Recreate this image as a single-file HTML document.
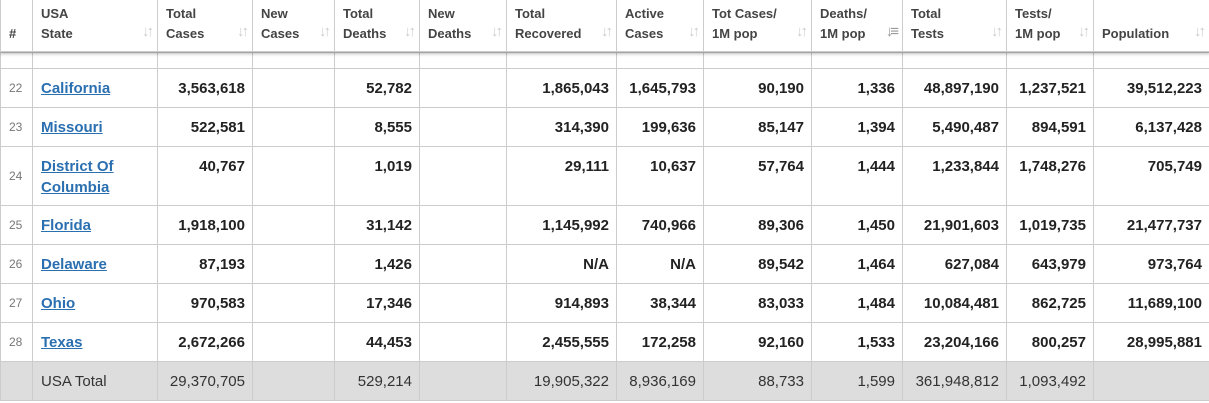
<!DOCTYPE html>
<html><head><meta charset="utf-8"><style>
body{margin:0;width:1209px;height:403px;overflow:hidden;background:#fff;font-family:"Liberation Sans",Arial,sans-serif;position:relative}
table{border-collapse:collapse;table-layout:fixed;position:absolute;left:0;width:1209px}
td,th{border:1px solid #ccc;padding:0 7px 0 8px;overflow:hidden;white-space:nowrap}
#h{top:-1px;z-index:2;background:#fff;box-shadow:0 2px 3px rgba(0,0,0,.25)}
#h th{height:52px;font-size:13px;font-weight:bold;color:#444;text-align:left;vertical-align:top;line-height:20px;padding-top:4px;box-sizing:border-box;position:relative}
#h th .s{position:absolute;right:6px;bottom:9px;color:#ccc;font-size:15px;font-weight:bold;letter-spacing:-3px}
#h th.c{padding-top:24px}
#b{top:52px}
#b td{font-size:15px;font-weight:bold;color:#222;text-align:right;vertical-align:top;padding-top:9px;line-height:21px;height:29px;box-sizing:border-box}
#b td.n{font-size:12px;font-weight:normal;color:#777;text-align:left;padding-left:8px;vertical-align:middle;padding-top:0;height:39px}
#b td.st{text-align:left}
#b td.st a{color:#2a6fb0;text-decoration:underline}
#b tr.p td{height:16px;padding:0}
#b tr.t td{background:#ddd;font-weight:normal;color:#333;vertical-align:middle;padding-top:0;height:39px}
</style></head><body>
<table id="h"><colgroup><col style="width:32px"><col style="width:125px"><col style="width:95px"><col style="width:82px"><col style="width:85px"><col style="width:87px"><col style="width:110px"><col style="width:87px"><col style="width:108px"><col style="width:91px"><col style="width:104px"><col style="width:87px"><col style="width:116px"></colgroup>
<tr><th class="c">#</th><th>USA<br>State<span class="s">↓↑</span></th><th>Total<br>Cases<span class="s">↓↑</span></th><th>New<br>Cases<span class="s">↓↑</span></th><th>Total<br>Deaths<span class="s">↓↑</span></th><th>New<br>Deaths<span class="s">↓↑</span></th><th>Total<br>Recovered<span class="s">↓↑</span></th><th>Active<br>Cases<span class="s">↓↑</span></th><th>Tot Cases/<br>1M pop<span class="s">↓↑</span></th><th>Deaths/<br>1M pop<span class="s" style="color:#999">↓≡</span></th><th>Total<br>Tests<span class="s">↓↑</span></th><th>Tests/<br>1M pop<span class="s">↓↑</span></th><th class="c">Population<span class="s">↓↑</span></th></tr></table>
<table id="b"><colgroup><col style="width:32px"><col style="width:125px"><col style="width:95px"><col style="width:82px"><col style="width:85px"><col style="width:87px"><col style="width:110px"><col style="width:87px"><col style="width:108px"><col style="width:91px"><col style="width:104px"><col style="width:87px"><col style="width:116px"></colgroup>
<tr class="p"><td></td><td></td><td></td><td></td><td></td><td></td><td></td><td></td><td></td><td></td><td></td><td></td><td></td></tr>
<tr><td class="n">22</td><td class="st"><a>California</a></td><td>3,563,618</td><td></td><td>52,782</td><td></td><td>1,865,043</td><td>1,645,793</td><td>90,190</td><td>1,336</td><td>48,897,190</td><td>1,237,521</td><td>39,512,223</td></tr>
<tr><td class="n">23</td><td class="st"><a>Missouri</a></td><td>522,581</td><td></td><td>8,555</td><td></td><td>314,390</td><td>199,636</td><td>85,147</td><td>1,394</td><td>5,490,487</td><td>894,591</td><td>6,137,428</td></tr>
<tr><td class="n" style="height:59px">24</td><td class="st"><a>District Of<br>Columbia</a></td><td>40,767</td><td></td><td>1,019</td><td></td><td>29,111</td><td>10,637</td><td>57,764</td><td>1,444</td><td>1,233,844</td><td>1,748,276</td><td>705,749</td></tr>
<tr><td class="n">25</td><td class="st"><a>Florida</a></td><td>1,918,100</td><td></td><td>31,142</td><td></td><td>1,145,992</td><td>740,966</td><td>89,306</td><td>1,450</td><td>21,901,603</td><td>1,019,735</td><td>21,477,737</td></tr>
<tr><td class="n">26</td><td class="st"><a>Delaware</a></td><td>87,193</td><td></td><td>1,426</td><td></td><td>N/A</td><td>N/A</td><td>89,542</td><td>1,464</td><td>627,084</td><td>643,979</td><td>973,764</td></tr>
<tr><td class="n">27</td><td class="st"><a>Ohio</a></td><td>970,583</td><td></td><td>17,346</td><td></td><td>914,893</td><td>38,344</td><td>83,033</td><td>1,484</td><td>10,084,481</td><td>862,725</td><td>11,689,100</td></tr>
<tr><td class="n">28</td><td class="st"><a>Texas</a></td><td>2,672,266</td><td></td><td>44,453</td><td></td><td>2,455,555</td><td>172,258</td><td>92,160</td><td>1,533</td><td>23,204,166</td><td>800,257</td><td>28,995,881</td></tr>
<tr class="t"><td></td><td style="text-align:left">USA Total</td><td>29,370,705</td><td></td><td>529,214</td><td></td><td>19,905,322</td><td>8,936,169</td><td>88,733</td><td>1,599</td><td>361,948,812</td><td>1,093,492</td><td></td></tr>
</table>
</body></html>
